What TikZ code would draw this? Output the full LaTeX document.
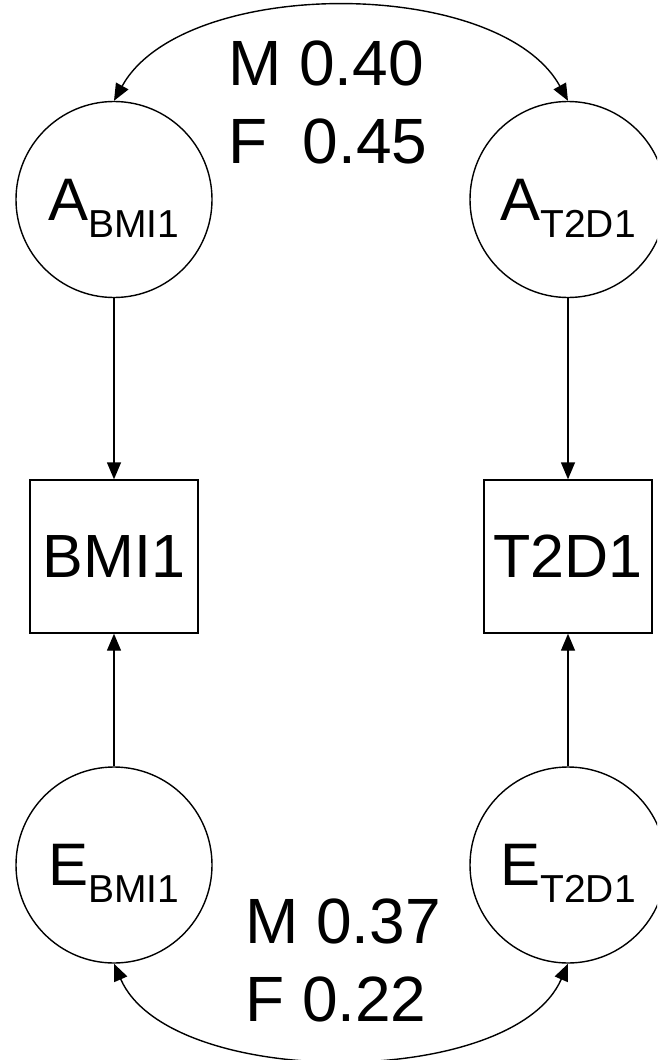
\documentclass[tikz,border=0pt]{standalone}
\usepackage{fontspec}
\setmainfont{Liberation Sans}
\usetikzlibrary{arrows.meta}
\newcommand\lsub[1]{\smash{\raisebox{-17pt}{\fontsize{39}{39}\selectfont #1}}}
\begin{document}
\begin{tikzpicture}[x=1pt,y=-1pt,
  latent/.style={circle, draw, line width=1.4pt, minimum size=196pt, inner sep=0pt, font=\fontsize{60}{60}\selectfont},
  observed/.style={rectangle, draw, line width=1.4pt, minimum width=168pt, minimum height=153pt, inner sep=0pt, font=\fontsize{61}{61}\selectfont},
  arrowline/.style={line width=1.4pt, -{Triangle[length=17pt,width=14pt]}},
  biarrow/.style={line width=1.4pt, {Triangle[length=17pt,width=14pt]}-{Triangle[length=17pt,width=14pt]}},
  corrlabel/.style={anchor=north west, inner sep=0pt, align=left, font=\fontsize{64}{78}\selectfont}]
\useasboundingbox (0,0) rectangle (657,1060);
\clip (0,0) rectangle (657,1060);
\node[latent] (aB) at (114,199.5) {A\lsub{BMI1}};
\node[latent] (aT) at (568,199.5) {A\lsub{T2D1}};
\node[observed] (bmi) at (114,556.5) {BMI1};
\node[observed] (t2d) at (568,556.5) {T2D1};
\node[latent] (eB) at (114,865) {E\lsub{BMI1}};
\node[latent] (eT) at (568,865) {E\lsub{T2D1}};
\draw[arrowline] (aB.south) -- (bmi.north);
\draw[arrowline] (aT.south) -- (t2d.north);
\draw[arrowline] (eB.north) -- (bmi.south);
\draw[arrowline] (eT.north) -- (t2d.south);
\draw[biarrow] (aB.north) .. controls (183,-24) and (499,-24) .. (aT.north);
\draw[biarrow] (eB.south) .. controls (169,1090) and (513,1090) .. (eT.south);
\node[corrlabel] (ltop) at (228,41) {M 0.40\\F\ \ 0.45};
\node[corrlabel] (lbot) at (245,899) {M 0.37\\F 0.22};
\end{tikzpicture}
\end{document}
